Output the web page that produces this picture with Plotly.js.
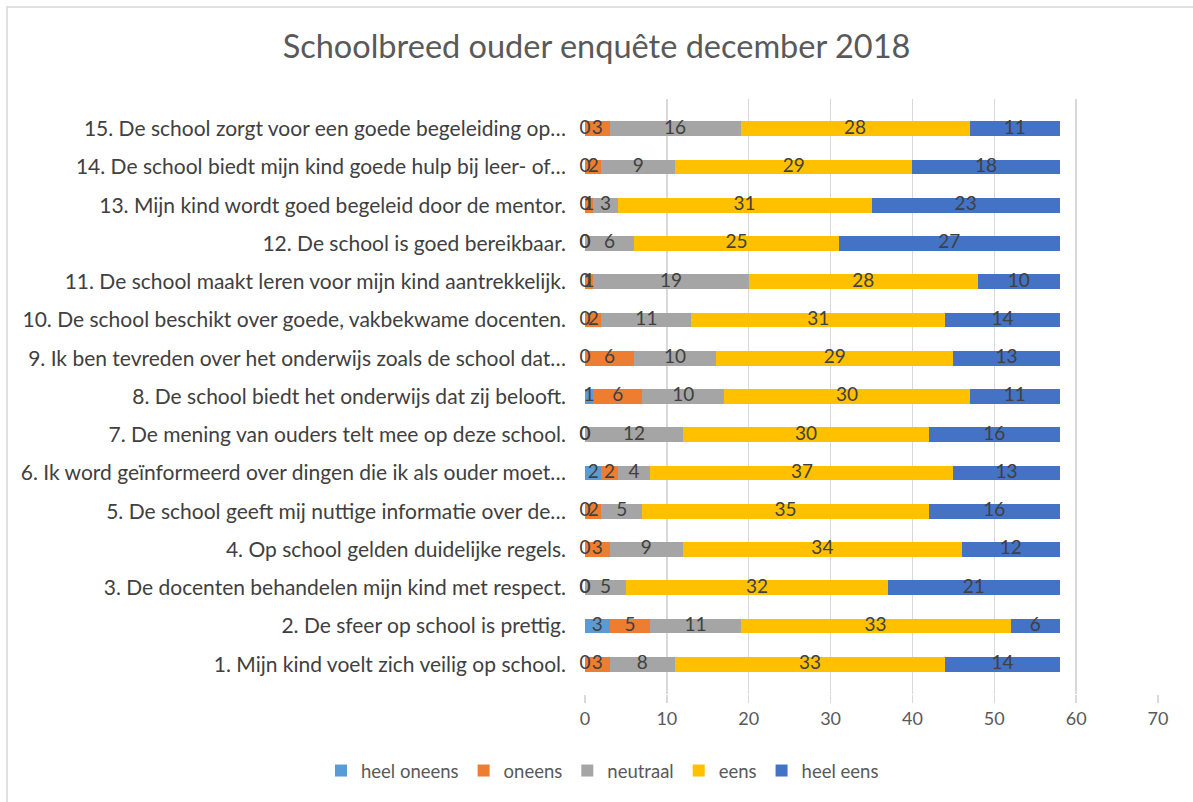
<!DOCTYPE html>
<html>
<head>
<meta charset="utf-8">
<script src="https://cdn.plot.ly/plotly-3.0.1.min.js"></script>
<style>
html,body{margin:0;padding:0;background:#fff;overflow:hidden;}
#frame{position:absolute;left:6px;top:6px;width:1200px;height:810px;border:2px solid #e0e0e0;box-sizing:border-box;pointer-events:none;z-index:5;}
#chart{position:absolute;left:0;top:0;width:1193px;height:802px;}
</style>
</head>
<body>
<div id="chart"></div>
<div id="frame"></div>
<script>
// Categories (bottom to top)
const categories = [
  "1. Mijn kind voelt zich veilig op school.",
  "2. De sfeer op school is prettig.",
  "3. De docenten behandelen mijn kind met respect.",
  "4. Op school gelden duidelijke regels.",
  "5. De school geeft mij nuttige informatie over de…",
  "6. Ik word geïnformeerd over dingen die ik als ouder moet…",
  "7. De mening van ouders telt mee op deze school.",
  "8. De school biedt het onderwijs dat zij belooft.",
  "9. Ik ben tevreden over het onderwijs zoals de school dat…",
  "10. De school beschikt over goede, vakbekwame docenten.",
  "11. De school maakt leren voor mijn kind aantrekkelijk.",
  "12. De school is goed bereikbaar.",
  "13. Mijn kind wordt goed begeleid door de mentor.",
  "14. De school biedt mijn kind goede hulp bij leer- of…",
  "15. De school zorgt voor een goede begeleiding op…"
];
const seriesNames = ["heel oneens", "oneens", "neutraal", "eens", "heel eens"];
const heelOneens = [0, 3, 0, 0, 0, 2, 0, 1, 0, 0, 0, 0, 0, 0, 0];
const oneens     = [3, 5, 0, 3, 2, 2, 0, 6, 6, 2, 1, 0, 1, 2, 3];
const neutraal   = [8, 11, 5, 9, 5, 4, 12, 10, 10, 11, 19, 6, 3, 9, 16];
const eens       = [33, 33, 32, 34, 35, 37, 30, 30, 29, 31, 28, 25, 31, 29, 28];
const heelEens   = [14, 6, 21, 12, 16, 13, 16, 11, 13, 14, 10, 27, 23, 18, 11];
const xTicks = [0, 10, 20, 30, 40, 50, 60, 70];

const colors = ["#5B9BD5", "#ED7D31", "#A5A5A5", "#FFC000", "#4472C4"];
const seriesValues = [heelOneens, oneens, neutraal, eens, heelEens];

const FONT = "Lato, 'Open Sans', sans-serif";
const traces = [];
seriesValues.forEach((vals, i) => {
  traces.push({
    type: "bar", orientation: "h", name: seriesNames[i],
    y: categories, x: vals,
    marker: {color: colors[i], line: {width: 0}},
    hoverinfo: "skip"
  });
});
// data labels at the centre of each segment (Excel style, zeros included)
const cum = categories.map(() => 0);
seriesValues.forEach((vals) => {
  const xs = vals.map((v, k) => cum[k] + v / 2);
  vals.forEach((v, k) => { cum[k] += v; });
  traces.push({
    type: "scatter", mode: "text", showlegend: false, hoverinfo: "skip",
    y: categories, x: xs, text: vals.map(String),
    textposition: "middle center",
    textfont: {family: FONT, size: 19, color: "#404040"},
    cliponaxis: false
  });
});

const layout = {
  width: 1193, height: 802,
  paper_bgcolor: "#ffffff", plot_bgcolor: "#ffffff",
  margin: {l: 585, r: 35, t: 99, b: 108},
  barmode: "stack", bargap: 0.62,
  showlegend: true,
  title: {
    text: "Schoolbreed ouder enquête december 2018",
    font: {family: FONT, size: 32.5, color: "#595959"},
    x: 0.5, xref: "container", xanchor: "center",
    y: 1 - 47 / 802, yref: "container", yanchor: "middle"
  },
  xaxis: {
    range: [0, 70], tickvals: xTicks, ticktext: xTicks.map(String),
    showgrid: true, gridcolor: "#d9d9d9", gridwidth: 1.5,
    zeroline: false, showline: false,
    ticks: "outside", ticklen: 8, tickcolor: "#d9d9d9", tickwidth: 1.5,
    tickfont: {family: FONT, size: 18, color: "#595959"},
    fixedrange: true
  },
  yaxis: {
    type: "category", categoryorder: "array", categoryarray: categories,
    showgrid: false, zeroline: false, showline: false, ticks: "",
    ticklabelstandoff: 18,
    tickfont: {family: FONT, size: 21, color: "#404040"},
    fixedrange: true
  },
  legend: {
    orientation: "h", xref: "container", yref: "container",
    x: 0.505, xanchor: "center", y: 1 - 771 / 802, yanchor: "middle",
    font: {family: FONT, size: 18.5, color: "#595959"},
    traceorder: "normal", itemclick: false, itemdoubleclick: false,
    itemwidth: 30
  },
  font: {family: FONT}
};

Plotly.newPlot("chart", traces, layout, {displayModeBar: false, staticPlot: true});
</script>
</body>
</html>
